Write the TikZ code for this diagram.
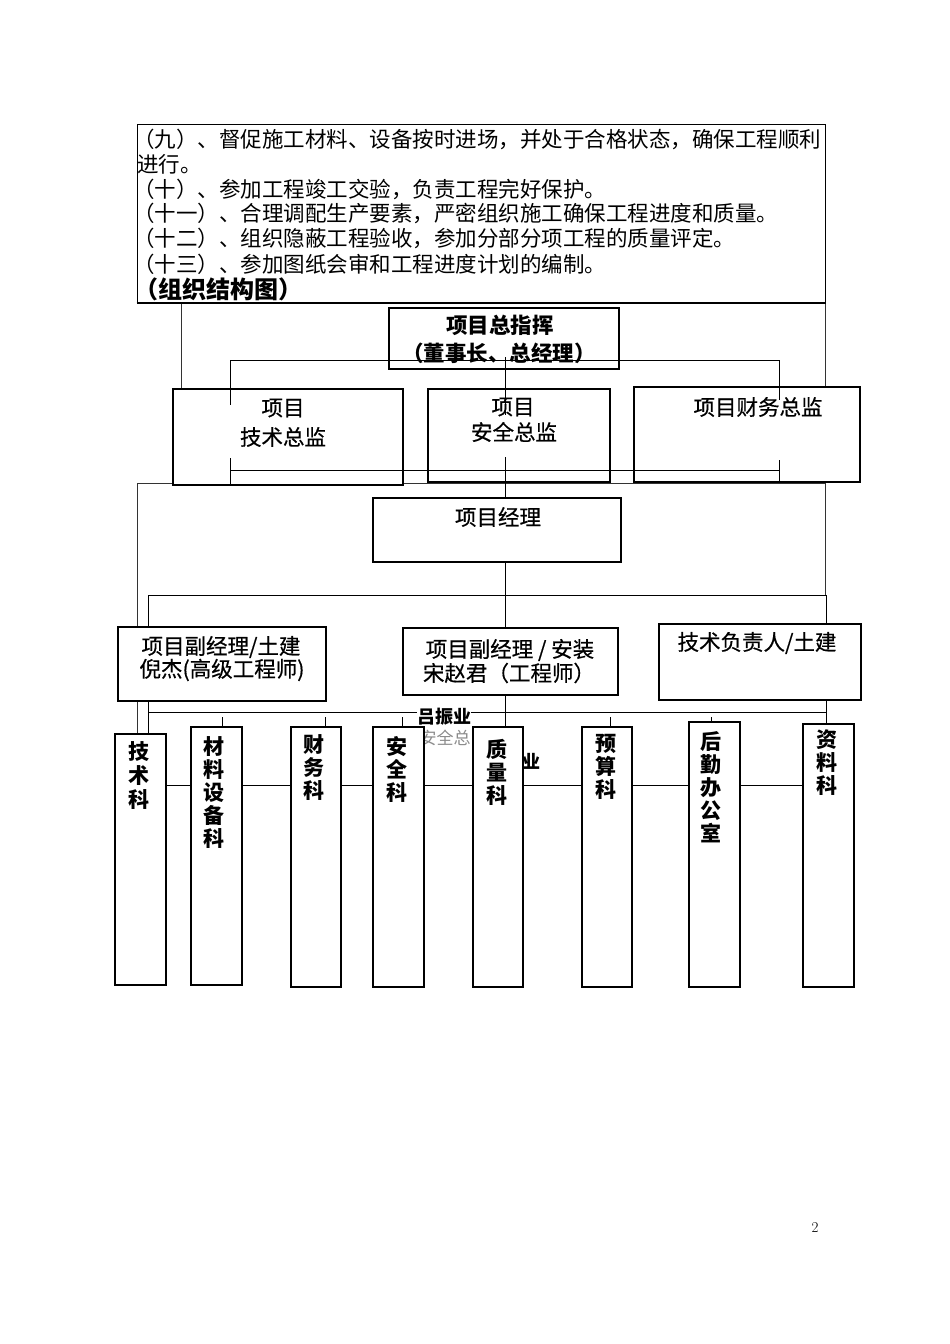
\documentclass[tikz,border=0pt]{standalone}
\usepackage{fontspec}
\newfontfamily\cjk{Noto Sans CJK SC}
\newfontfamily\cjkm[FakeBold=0.5]{Noto Sans CJK SC}
\begin{document}
\tikzset{
  box/.style={draw, line width=1.3pt, fill=white, inner sep=0pt, outer sep=0pt, anchor=north west},
  con/.style={line width=0.9pt},
  frm/.style={line width=0.8pt, draw=black!80},
  tl/.style={anchor=west, inner sep=0pt, font=\cjk\fontsize{21.5}{25}\selectfont},
  bt/.style={inner sep=0pt, font=\cjkm\fontsize{21.5}{25}\selectfont},
  bb/.style={inner sep=0pt, font=\cjk\bfseries\fontsize{21.5}{25}\selectfont},
  vt/.style={inner sep=0pt, anchor=north, align=center, font=\cjk\bfseries\fontsize{21}{23}\selectfont},
  st/.style={inner sep=0pt, font=\cjk\bfseries\fontsize{18}{20}\selectfont},
}
\begin{tikzpicture}[x=1pt,y=-1pt]
\fill[white] (0,0) rectangle (950,1344);
\useasboundingbox (0,0) rectangle (950,1344);

% ---- text block at the top ----
\draw[line width=1pt] (137,302.5) -- (137,124.5) -- (825,124.5) -- (825,302.5);
\draw[line width=2pt] (136.5,302.5) -- (825.5,302.5);
\node[tl] (t1) at (133,139) {（九）、督促施工材料、设备按时进场，并处于合格状态，确保工程顺利};
\node[tl] (t2) at (137,164) {进行。};
\node[tl] (t3) at (133,189) {（十）、参加工程竣工交验，负责工程完好保护。};
\node[tl] (t4) at (133,213.5) {（十一）、合理调配生产要素，严密组织施工确保工程进度和质量。};
\node[tl] (t5) at (133,238.5) {（十二）、组织隐蔽工程验收，参加分部分项工程的质量评定。};
\node[tl] (t6) at (133,264) {（十三）、参加图纸会审和工程进度计划的编制。};
\node[tl, font=\cjk\bfseries\fontsize{24}{28}\selectfont] (t7) at (134,289) {（组织结构图）};

% ---- frame lines ----
\draw[frm] (181,303.5) -- (181,389);
\draw[frm] (825,303.5) -- (825,595);
\draw[frm] (137,483) -- (826,483);
\draw[frm] (137,483) -- (137,734);

% ---- top boxes ----
\node[box, minimum width=230, minimum height=61] (zzh) at (389,308) {};
\node[box, minimum width=230, minimum height=96] (jszj) at (173,389) {};
\node[box, minimum width=182, minimum height=93] (aqzj) at (428,389) {};
\node[box, minimum width=226, minimum height=95] (cwzj) at (634,387) {};
\node[box, minimum width=248, minimum height=64] (xmjl) at (373,498) {};

\node[bb] (zzh1) at (500,325) {项目总指挥};
\node[bb] (zzh2) at (499,353) {（董事长、总经理）};
\node[bt] (js1) at (283,408) {项目};
\node[bt] (js2) at (283,437) {技术总监};
\node[bt] (aq1) at (513,407) {项目};
\node[bt] (aq2) at (514,432) {安全总监};
\node[bt] (cw1) at (758,407) {项目财务总监};
\node[bt] (jl1) at (498,517) {项目经理};

% ---- connectors of the upper part ----
\coordinate (a1) at (230.6,360);
\coordinate (a2) at (779,360);
\draw[con] (a1) -- (a2);
\draw[con] (a1) -- (230.6,405);
\draw[con] (a2) -- (779,400);
\draw[con] (505,357) -- (505,415);
\coordinate (b1) at (230.6,470);
\coordinate (b2) at (779,470);
\draw[con] (230.6,458) -- (230.6,485);
\draw[con] (b1) -- (b2);
\draw[con] (779,460) -- (779,482);
\draw[con] (505,457) -- (xmjl.north -| 505,0);

% ---- middle level ----
\coordinate (c1) at (148,595);
\coordinate (c2) at (826,595);
\draw[con] (xmjl.south -| 505,0) -- (505,595);
\draw[con] (c1) -- (c2);
\draw[con] (c1) -- (148,734);
\draw[con] (505,595) -- (505,628);
\draw[con] (826,595) -- (826,724);
\draw[con] (505,695) -- (505,727);

\node[box, minimum width=208, minimum height=74] (fjl1) at (118,627) {};
\node[box, minimum width=215, minimum height=67] (fjl2) at (403,628) {};
\node[box, minimum width=202, minimum height=76] (jsfz) at (659,624) {};
\node[bt] (f11) at (221,647) {项目副经理/土建};
\node[bt] (f12) at (222,670) {倪杰(高级工程师)};
\node[bt] (f21) at (510,650) {项目副经理 / 安装};
\node[bt] (f22) at (509,673) {宋赵君（工程师）};
\node[bt] (jf1) at (757,643) {技术负责人/土建};

% ---- lower level ----
\draw[con] (148,712) -- (826,712);
\draw[con] (222,717) -- (222,727);
\draw[con] (325,717) -- (325,727);
\draw[con] (402,717) -- (402,727);
\draw[con] (610,717) -- (610,727);
\draw[con] (711,717) -- (711,722);
\draw[con] (166,785) -- (803,785);

\node[st, fill=white] (lzy) at (444,717) {吕振业};
\node[inner sep=0pt, text=black!45, font=\cjk\fontsize{17}{20}\selectfont] (aqz) at (445,738) {安全总};
\node[st] (ye) at (531,761) {业};

\node[box, minimum width=51, minimum height=251] (k1) at (115,734) {};
\node[box, minimum width=51, minimum height=258] (k2) at (191,727) {};
\node[box, minimum width=50, minimum height=260] (k3) at (291,727) {};
\node[box, minimum width=51, minimum height=260] (k4) at (373,727) {};
\node[box, minimum width=50, minimum height=260] (k5) at (473,727) {};
\node[box, minimum width=50, minimum height=260] (k6) at (582,727) {};
\node[box, minimum width=51, minimum height=265] (k7) at (689,722) {};
\node[box, minimum width=51, minimum height=263] (k8) at (803,724) {};

\node[vt, font=\cjk\bfseries\fontsize{21}{24}\selectfont] (v1) at (139,741.5) {技\\术\\科};
\node[vt] (v2) at (214,736.5) {材\\料\\设\\备\\科};
\node[vt] (v3) at (313.5,734.5) {财\\务\\科};
\node[vt] (v4) at (397,736.5) {安\\全\\科};
\node[vt] (v5) at (497,739.5) {质\\量\\科};
\node[vt] (v6) at (605.5,734.5) {预\\算\\科};
\node[vt] (v7) at (711,731.5) {后\\勤\\办\\公\\室};
\node[vt] (v8) at (826.5,729.5) {资\\料\\科};

% ---- page number ----
\node[inner sep=0pt, font=\fontsize{15}{18}\selectfont] (pg) at (815,1228) {2};
\end{tikzpicture}
\end{document}
